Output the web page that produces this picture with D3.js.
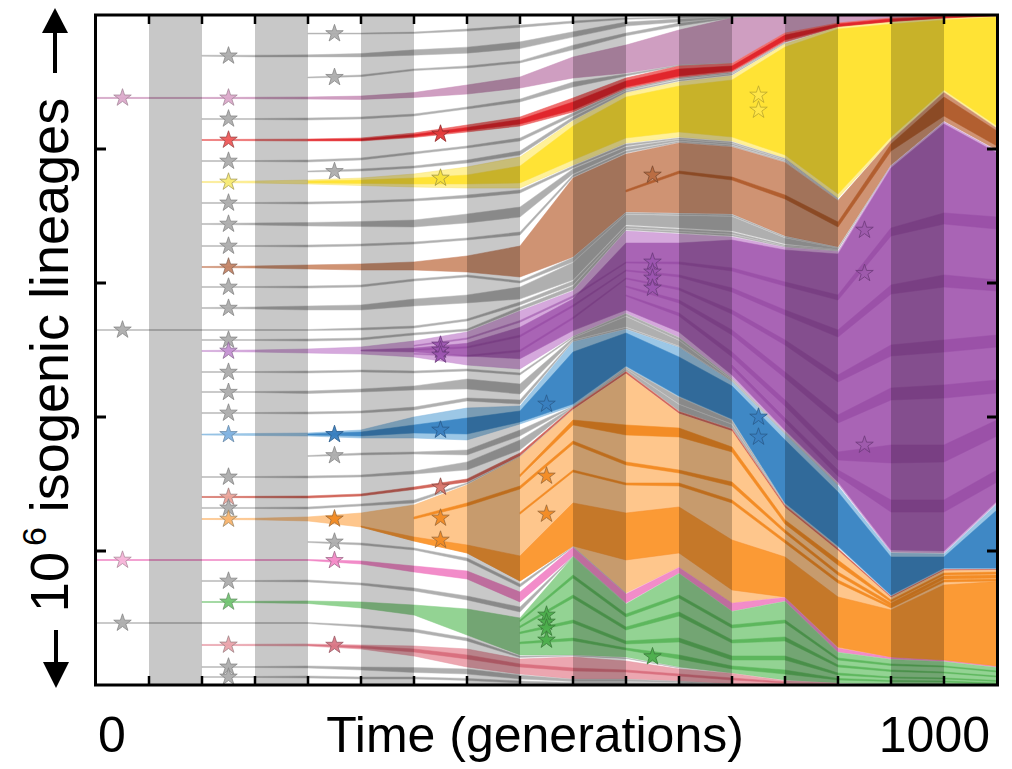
<!DOCTYPE html>
<html>
<head>
<meta charset="utf-8">
<script src="https://cdn.jsdelivr.net/npm/d3@7"></script>
<style>
  body { margin: 0; background: #fff; }
  svg { display: block; }
  text { font-family: "Liberation Sans", Arial, Helvetica, sans-serif; fill: #000; }
</style>
</head>
<body>
<svg id="chart" width="1012" height="769"></svg>
<script>
// Sampling points (transfer index) along the time axis.
const timePoints = [0,1,2,3,4,5,6,7,8,9,10,11,12,13,14,15,16,17];
const xTickLabels = ["0", "1000"];
const shadedIntervals = [1,3,5,7,9,11,13,15];
const yTicks = [200, 400, 600, 800];

// Each lineage: [upper, lower] rank edge (thousands of lineages counted from the top) per sample; null = not yet present / extinct.
const G1 = [null,null,null,null,[27,28.5],[27,28.5],[25.5,27.5],[21,24],[15,18.5],[9,12],[4.5,6.5],[3,4.5],[1.5,2.2],[0.8,1.1],null,null,null,null];
const G2 = [null,null,[60,61.5],[60,62.5],[59.5,62.5],[57.5,62.5],[52,60],[48,57],[40,50],[25,33],[10.5,16.5],[6,10.5],[2.2,3.7],[1.2,1.8],null,null,null,null];
const G3 = [null,null,null,null,[92.5,94],[89.5,92],[80.5,83],[76,79],[68.5,71.5],[45,52],[27,31],[12,16.5],[3.7,4.5],[1.8,2.2],null,null,null,null];
const mauve = [[123,124.5],[123,124.5],[123,124.5],[122.8,125],[122.4,125.4],[121,126],[115.7,123],[104.5,118],[92.5,109],[62.7,94],[44.8,86.6],[22.4,74.6],[4.5,71.6],[2.2,27],[1.5,12],[0.7,4.5],[0.4,1.5],[0.1,0.4]];
const G4 = [null,null,[154.5,156],[154.5,156],[153.7,156.7],[152.2,155.2],[147.8,150.7],[137.3,140.3],[125.4,129.8],[100,107.5],[88,91],[74.6,76],[71.6,72.4],null,null,null,null,null];
const red = [null,null,[185.8,187.3],[185.5,187.6],[185.1,188.1],[183.6,188.1],[176.1,182.8],[164.2,174.6],[152.2,165.7],[123.9,144.8],[94,110.4],[76.1,94],[72.4,85.1],[26.9,40.3],[11.9,17.9],[4.5,10.4],[1.5,5.2],[0.4,1.5]];
const redCore = [null,null,null,null,[186.1,187],[185.1,187.3],[178.4,181.3],[167.9,172.4],[156,162.7],[129.8,141.8],[98.5,107.5],[80.6,91],[76.1,82.8],[29.9,37.3],[13.4,17.2],[6,9.7],[2.2,4.5],[0.6,1.3]];
const G5 = [null,null,[217.2,218.7],[217.2,218.7],[216.4,219.4],[213.4,216.4],[204.5,207.5],[195.5,198.5],[183.6,188.1],[146.3,150.7],[110.4,112.7],[94,95.5],[85.8,87.4],[40.3,41],null,null,null,null];
const G6 = [null,null,null,null,[232.8,234.3],[229.8,232.8],[225.4,228.4],[216.4,220.9],[203,209],[152.2,156.7],[113.4,115.7],[97,98.5],[88.1,89.6],[41.8,42.5],null,null,null,null];
const yellow = [null,null,[248.5,250],[247.8,250.7],[246.3,252.2],[243.3,254.5],[237.3,256.7],[226.9,258.2],[211.9,258.2],[158.2,223.9],[116.4,191],[100,182.1],[91,188.1],[43.3,213.4],[17.9,273.1],[10.4,186.6],[5.2,114.9],[1.5,168.7]];
const yellowCore = [null,null,null,null,[247.8,250.7],[246.3,251.5],[243.3,252.2],[238.8,252.2],[225.4,250.7],[165.7,216.4],[122.4,183.6],[106,174.6],[97,182.1],[47.8,209],[20.9,267.2],[13.4,182.1],[7.5,111.9],[3,165.7]];
const G7 = [null,null,[279.8,281.3],[279.8,281.3],[279.1,282.1],[277.6,280.6],[274.6,277.6],[268.7,273.1],[261.2,265.7],[225.4,228.4],[192.5,195.5],[183.6,185.1],[189.5,191],[214.2,215.7],[273.9,274.6],null,null,null];
const G8 = [null,null,[311.2,312.7],[310.4,313.4],[309.7,314.9],[308.2,315.7],[306,316.4],[297,310.4],[286.6,301.5],[229.8,237.3],[197,201.5],[185.8,188.1],[191.8,194],[216.4,217.9],[274.9,275.5],null,null,null];
const G9 = [null,null,[344,345.5],[344,345.5],[343.3,346.3],[341.8,344.8],[338.8,341.8],[332.8,335.8],[323.9,328.4],[238.8,241.8],[203,206],[188.8,190.3],[194.8,196.3],[218.7,219.4],[275.8,276.1],null,null,null];
const brown = [null,null,[375.4,376.9],[374.6,377.6],[373.1,379.1],[371.6,380.6],[368.6,380.6],[359.7,383.6],[344.8,391],[243.3,361.2],[207.5,294],[191,295.5],[197,297],[220.1,329.8],[276.9,346.3],[187.3,223.9],[115.7,158.2],[169.4,201.5]];
const brownCore = [null,null,null,null,null,null,null,null,null,null,[261.2,264.2],[232.8,236.6],[241.8,246.3],[268.7,274.6],[309,316.4],[192.5,203],[122.4,150.7],[173.1,195.5]];
const G10 = [null,null,[405.2,406.7],[405.2,406.7],[404.5,407.5],[403,406],[394,397],[388,391],[397,400],[361.9,368.6],[294.8,297],[296.3,298.5],[297.8,300],[330.6,332.1],[347,347.8],null,null,null];
const G11 = [null,null,[436.6,438.1],[435.8,438.8],[434.3,440.3],[432.8,440.3],[423.9,434.3],[417.9,429.8],[406,423.9],[369.4,395.5],[297.8,313.4],[299.3,317.9],[300.7,322.4],[332.8,341.8],[348.2,350],[224.2,224.8],null,null];
const G12 = [[469.4,470.9],[469.4,470.9],[469.4,470.9],[469.4,470.9],[469.4,470.9],[467.2,470.1],[464.2,467.2],[453.7,456.7],[428.3,432.8],[397,403],[314.9,317.9],[319.4,322.4],[323.9,326.9],[343.3,344.8],[350,350.7],null,null,null];
const G13 = [null,null,[484.3,485.8],[484.3,485.8],[483.6,486.6],[482.1,485.1],[474.6,477.6],[468.6,471.6],[435.8,440.3],[404.5,410.4],[318.6,320.9],[323.1,325.4],[327.6,329.8],[345.2,346.3],[351.8,352.2],null,null,null];
const purple = [null,null,[500.7,502.2],[500,503],[498.5,504.5],[495.5,506],[486.6,510.4],[473.1,522.4],[441.8,528.3],[411.9,479.1],[322.4,444.8],[326.9,480.6],[331.3,541.8],[347,622.4],[353,700],[225.4,801.5],[159.7,803],[203,728.3]];
const purpleCore = [null,null,null,null,null,[500,501.5],[497,503],[490,509],[466,513],[424,471],[340.3,440.3],[340.3,473.1],[335.8,537.3],[350.7,619.4],[356.7,697],[228.4,798.5],[162.7,800],[206,725.4]];
const purpleSubA = [null,null,null,null,null,null,[493,494.5],[482,484],[456,458.5],[419,421.5],[368.6,370.1],[368.6,371.6],[377.6,382.1],[398.5,404.5],[417.9,425.4],[317.9,329.8],[295.5,311.9],[301.5,319.4]];
const purpleSubB = [null,null,null,null,null,null,[499,500.5],[495,497],[478,480.5],[433,435.5],[380.6,382.1],[388,391],[407.5,413.4],[440.3,447.8],[470.1,480.6],[403,416.4],[388,406],[395.5,411.9]];
const purpleSubC = [null,null,null,null,null,null,[505,506.5],[508,510],[500,502.5],[451,453.5],[392.5,394],[407.5,410.4],[440.3,446.3],[485.1,492.5],[537.3,547.7],[492.5,508.9],[485.1,503],[477.6,495.5]];
const purpleSubD = [null,null,null,null,null,null,null,null,null,null,[404.5,406],[425.4,429.8],[470.1,477.6],[532.8,541.8],[597,608.9],[556.7,574.6],[552.2,571.6],[544.8,564.2]];
const purpleSubE = [null,null,null,null,null,null,null,null,null,null,[417.9,419.4],[444.8,449.2],[503,510.4],[574.6,583.6],[652.2,664.2],[641.8,668.6],[641.8,667.1],[604.5,628.4]];
const purpleSubF = [null,null,null,null,null,null,null,null,null,null,null,null,[522.4,526.9],[601.5,607.4],[679.1,688],[723.9,741.8],[723.9,741.8],[679.1,697]];
const G14 = [null,null,[532.1,533.6],[532.1,533.6],[531.3,534.3],[529.8,532.8],[531.3,534.3],[528.3,531.3],[534.3,537.3],[479.8,481.3],[445.5,449.2],[481.3,485.1],[542.5,544],[623.1,623.9],[700.4,700.9],null,null,null];
const G15 = [null,null,[561.9,563.4],[561.9,563.4],[561.2,564.9],[558.2,562.7],[553.7,559.7],[543.3,558.2],[550.7,565.7],[482.1,485.1],[450,465.7],[485.8,494],[544.8,546.3],[624.2,624.8],[701.5,701.9],null,null,null];
const G16 = [null,null,[593.3,594.8],[593.3,594.8],[592.5,595.5],[591,594],[585.1,589.5],[571.6,576.1],[574.6,580.6],[485.8,487.3],[466.4,468.6],[494.7,495.5],[546.7,547.4],[625.1,625.4],[702.2,702.5],null,null,null];
const blue = [null,null,[625.4,626.9],[624.6,627.6],[623.9,628.4],[619.4,631.3],[600,631.3],[586.6,634.3],[583.6,610.4],[488.1,583.6],[469.4,525.4],[496.3,570.1],[547.7,604.5],[626.1,729.8],[702.9,794],[803,867.1],[804.5,826.8],[729.8,826.8]];
const blueCore = [null,null,null,null,[625.4,626.9],[622.4,628.4],[611.9,623.9],[601.5,625.4],[591,607.4],[503,580.6],[474.6,523.9],[510.4,568.6],[553.7,603],[634.3,728.3],[711.9,792.5],[808.9,865.6],[808.9,825.4],[738.8,825.4]];
const G17 = [null,null,null,null,[657.5,658.9],[653.7,656.7],[652.2,655.2],[649.2,656.7],[619.4,628.4],[584,584.6],[525.8,527.6],[570.6,580.6],[604.9,610.4],[730.1,730.7],[794.3,794.8],null,null,null];
const G18 = [null,null,[688.8,690.3],[688.8,690.3],[688,691],[686.6,689.5],[680.6,685.1],[667.1,679.1],[634.3,649.2],[584.7,585.4],[527.9,531.3],[581.3,591],[611.2,617.2],[731,731.8],[795.1,795.8],null,null,null];
const salmon = [null,null,[718.6,720.1],[718.4,720.5],[717.9,720.9],[714.9,717.9],[704.5,708.2],[692.5,697],[653.7,658.2],[585.8,588.8],[532.1,535.1],[591.8,594.8],[617.9,620.9],[732.1,735.1],[796.4,799.4],[867.9,869.4],[827.6,829.1],[827.3,828.3]];
const G19 = [null,null,[735,736.5],[735,736.5],[734.3,737.3],[729.8,732.8],[723.9,728.3],[698.5,700],[658.6,659.2],[589.1,589.5],null,null,null,null,null,null,null,null];
const orange = [null,null,[751.5,753],[751.2,753.4],[749.2,755.2],[743.3,764.2],[731.3,785.1],[701.5,803],[659.7,844.8],[589.5,792.5],[535.8,862.7],[595.5,823.9],[621.2,877.6],[735.4,868.6],[799.5,944.8],[869.8,958.2],[829.5,962.7],[828.6,971.6]];
const orangeDeep = [null,null,null,null,null,[762.7,764.2],[779.1,785.1],[791,803],[807.4,844.8],[728.3,792.5],[743.3,813.4],[734.3,803],[783.6,858.2],[808.9,868.6],[868.6,943.3],[888,958.2],[850.7,962.7],[845.5,971.6]];
const orangeSubA = [null,null,null,null,null,null,[749.2,752.2],[728.3,732.8],[703,707.4],[635.8,640.3],[667.1,671.6],[679.1,683.6],[697,703],[768.6,773.1],[831.3,835.8],[877.6,882.1],[837.3,841.8],[835.8,840.3]];
const orangeSubB = [null,null,null,null,null,null,null,null,[686,689],[604.5,611.9],[611.9,626.9],[616.4,629.8],[644.8,652.2],[753.7,759.7],[813.4,820.9],[873.1,876.1],[832.8,835.8],[831.3,834.3]];
const orangeSubC = [null,null,null,null,null,null,null,null,[742,745],[679.1,682.1],[698.5,701.5],[698.5,703],[723.9,728.3],[783.6,788],[843.3,847.7],[882.1,885],[843.3,846.2],[841.8,844.8]];
const G20 = [null,null,null,null,[785.8,787.3],[788,791],[795.5,798.5],[810.4,814.9],[849.2,853.7],[793.3,794],[863.1,863.6],null,null,null,null,null,null,null];
const pink = [[812.7,814.2],[812.7,814.2],[812.7,814.2],[812.7,814.2],[812.7,814.2],[814.9,819.4],[822.4,831.3],[829.8,841.8],[861.2,876.1],[794.8,807.4],[864.2,877.6],[824.6,832.8],[878,889.5],[869.4,874.6],[945.2,950.7],[958.6,961.2],[963.1,964.6],[972,973.1]];
const G21 = [null,null,[844,845.5],[844,845.5],[843.3,846.2],[847.7,850.7],[855.2,859.7],[867.1,873.1],[883.6,891],[807.9,808.5],[877.9,878.3],null,null,null,null,null,null,null];
const green = [null,null,[875.4,876.8],[875.1,877.1],[874.6,878.3],[876.1,885],[880.6,895.5],[886.5,925.4],[900,955.2],[808.9,955.2],[879.1,958.2],[833.6,973.1],[890.3,982.1],[875.4,992.5],[951.4,997],[961.9,998.5],[965.3,999.3],[973.9,1000]];
const greenSubA = [null,null,null,null,null,null,null,null,[903,905.5],[835.8,840.3],[894,898.5],[865.7,870.1],[910.4,914.9],[903,907.4],[959.7,962.7],[968.6,970.9],[971.6,973.1],[979.1,980.6]];
const greenSubB = [null,null,null,null,null,null,null,null,[912,914.5],[865.7,870.1],[913.4,917.9],[891,897],[932.8,937.3],[928.3,934.3],[970.1,973.1],[977.6,979.8],[980.6,982.1],[986.6,988]];
const greenSubC = [null,null,null,null,null,null,null,null,[921,923.5],[903,907.4],[934.3,938.8],[929.8,935.8],[956.7,962.7],[956.7,962.7],[982.1,985.1],[988,989.5],[989.5,991],[993.2,994.7]];
const greenSubD = [null,null,null,null,null,null,null,null,[936,938.5],[930,934],[944.8,947.7],[955.2,961.2],[971.6,976.1],[977.6,983.6],[990.2,992.5],[993.2,994.7],[994,995.5],[997,998.5]];
const G22 = [[906.7,908.2],[906.7,908.2],[906.7,908.2],[906.7,908.2],[906.7,908.2],[910.4,913.4],[916.4,920.9],[929.8,934.3],[956.7,958.9],[955.9,956.7],[959.7,960.4],[973.9,974.6],null,null,null,null,null,null];
const rose = [null,null,[939.5,941],[939.2,941.3],[938.8,941.8],[940.3,946.2],[941.8,956.7],[946.2,973.1],[961.2,983.6],[958.2,991],[964.2,991],[976.1,994],[982.8,998.5],[993.7,999.4],[997.4,999.9],null,null,null];
const roseCore = [null,null,null,null,[940,940.6],[941.8,944.8],[946.2,950.7],[955.2,961.2],[968.6,973.1],[974.6,979.1],[977.6,980.6],[983.6,986.6],[989.5,992.5],[995.5,997],null,null,null,null];
const G23 = [null,null,[972.4,973.9],[972.4,973.9],[971.6,974.6],[973.1,977.6],[973.9,981.3],[976.1,983.6],[985.1,991],[991.5,994.7],[991.5,994.7],[994.3,996.2],[998.8,999.1],null,null,null,null,null];
const G24 = [null,null,[987.3,988.8],[987.3,988.8],[986.6,989.5],[988,991],[988,991],[990.2,993.2],[994,997],[996.2,998.5],[996.2,998.5],[997,999.3],[999.9,1000],null,null,null,null,null];

// Beneficial-mutation markers: [time, rank, kind]
const stars = [
  [0.5,123.7,"mauveP"],[0.5,470,"grayP"],[0.5,813.5,"pinkP"],[0.5,907.5,"grayP"],
  [2.5,61,"grayP"],[2.5,123.7,"mauveP"],[2.5,155,"grayP"],[2.5,186.5,"redP"],[2.5,218,"grayP"],
  [2.5,249.2,"yellowP"],[2.5,280.5,"grayP"],[2.5,312,"grayP"],[2.5,344.8,"grayP"],[2.5,376,"brownP"],
  [2.5,406,"grayP"],[2.5,437.5,"grayP"],[2.5,485,"grayP"],[2.5,501.5,"purpleP"],[2.5,533,"grayP"],
  [2.5,563,"grayP"],[2.5,594,"grayP"],[2.5,626,"blueP"],[2.5,689.5,"grayP"],[2.5,719.5,"salmonP"],
  [2.5,735.7,"grayP"],[2.5,752.3,"orangeP"],[2.5,844.8,"grayP"],[2.5,876,"greenP"],[2.5,940.2,"roseP"],
  [2.5,973,"grayP"],[2.5,988,"grayP"],
  [4.5,27.7,"grayP"],[4.5,93,"grayP"],[4.5,233.5,"grayP"],[4.5,626,"blue"],[4.5,657.5,"grayP"],
  [4.5,752,"orange"],[4.5,786.5,"grayP"],[4.5,814,"pink"],[4.5,940.5,"rose"],
  [6.5,177.6,"red"],[6.5,243.3,"yellow"],[6.5,492.5,"purple"],[6.5,500,"purple"],[6.5,507.4,"purple"],
  [6.5,619.4,"blue"],[6.5,704.5,"salmon"],[6.5,750.7,"orange"],[6.5,783.6,"orange"],
  [8.5,580.6,"blue"],[8.5,688,"orange"],[8.5,744.8,"orange"],[8.5,895.5,"green"],[8.5,906,"green"],
  [8.5,915,"green"],[8.5,932.8,"green"],
  [10.5,238.8,"brown"],[10.5,368.6,"purple"],[10.5,383.5,"purple"],[10.5,392.5,"purple"],[10.5,407.5,"purple"],
  [10.5,957.7,"green"],
  [12.5,119.4,"yellowOpen"],[12.5,141.8,"yellowOpen"],[12.5,600,"blue"],[12.5,629.8,"blue"],
  [14.5,321,"purpleDeep"],[14.5,385.5,"purpleDeep"],[14.5,641.8,"purpleDeep"]
];

// ---- drawing styles ----
const bandStyle = {
  gray:   { fill: "#afafaf", stroke: "#bdbdbd" },
  mauve:  { fill: "#cf9ec1", stroke: "#c890b8" },
  red:    { fill: "#ef7070", stroke: "#e85a5a" },
  yellow: { fill: "#fff198", stroke: "#f6e27a" },
  brown:  { fill: "#cf9373", stroke: "#c8866a" },
  purple: { fill: "#d5a8dc", stroke: "#c998d2" },
  blue:   { fill: "#9cc7e6", stroke: "#8bbbe0" },
  salmon: { fill: "#d2685d", stroke: "#d2685d" },
  orange: { fill: "#fec68c", stroke: "#fbb874" },
  pink:   { fill: "#f28cc9", stroke: "#ee7fc0" },
  green:  { fill: "#93d393", stroke: "#86cc86" },
  rose:   { fill: "#eca6b0", stroke: "#e597a3" },
  redCore:    { fill: "#e1262c", stroke: "#e1262c" },
  yellowCore: { fill: "#ffe335", stroke: "#fbe048" },
  brownCore:  { fill: "#b25f30", stroke: "#b25f30" },
  purpleCore: { fill: "#a964b5", stroke: "#a964b5" },
  purpleSub:  { fill: "#8e3f9d", stroke: "#8e3f9d", opacity: 0.5 },
  blueCore:   { fill: "#3f88c5", stroke: "#3f88c5" },
  orangeDeep: { fill: "#fb9a35", stroke: "#f79030" },
  orangeSub:  { fill: "#f2861b", stroke: "#f2861b", opacity: 0.9 },
  greenSub:   { fill: "#4cae4c", stroke: "#4cae4c", opacity: 0.75 },
  roseCore:   { fill: "#d9707f", stroke: "#d9707f" }
};

const baseLayers = [
  [G1,"gray"],[G2,"gray"],[G3,"gray"],[mauve,"mauve"],[G4,"gray"],[red,"red"],[G5,"gray"],[G6,"gray"],
  [yellow,"yellow"],[G7,"gray"],[G8,"gray"],[G9,"gray"],[brown,"brown"],[G10,"gray"],[G11,"gray"],
  [G12,"gray"],[G13,"gray"],[purple,"purple"],[G14,"gray"],[G15,"gray"],[G16,"gray"],[blue,"blue"],
  [G17,"gray"],[G18,"gray"],[salmon,"salmon"],[G19,"gray"],[orange,"orange"],[G20,"gray"],[pink,"pink"],
  [G21,"gray"],[green,"green"],[G22,"gray"],[rose,"rose"],[G23,"gray"],[G24,"gray"]
];
const nestedLayers = [
  [redCore,"redCore"],[yellowCore,"yellowCore"],[brownCore,"brownCore"],[purpleCore,"purpleCore"],
  [purpleSubA,"purpleSub"],[purpleSubB,"purpleSub"],[purpleSubC,"purpleSub"],[purpleSubD,"purpleSub"],
  [purpleSubE,"purpleSub"],[purpleSubF,"purpleSub"],[blueCore,"blueCore"],[orangeDeep,"orangeDeep"],
  [orangeSubA,"orangeSub"],[orangeSubB,"orangeSub"],[orangeSubC,"orangeSub"],
  [greenSubA,"greenSub"],[greenSubB,"greenSub"],[greenSubC,"greenSub"],[greenSubD,"greenSub"],
  [roseCore,"roseCore"]
];

const starStyle = {
  grayP:   ["#adadad", "#868686"], mauveP: ["#dcaacb", "#a58899"], pinkP: ["#f6b4d8", "#ad8a9c"],
  redP:    ["#ef5a5a", "#9c4a4a"], yellowP: ["#f7ea74", "#a9a060"], brownP: ["#c48466", "#8a6a5a"],
  purpleP: ["#c592d3", "#8d6d96"], blueP: ["#80b2e0", "#6a8aa8"], salmonP: ["#eba49a", "#a08080"],
  orangeP: ["#f9b36b", "#a08a6a"], greenP: ["#72c472", "#6a946a"], roseP: ["#eaa3ab", "#a08488"],
  blue:    ["#3a80c0", "#2a5a8a"], orange: ["#f28a22", "#9a6a3a"], pink: ["#f48bc8", "#a06a8a"],
  rose:    ["#d97786", "#9a5a66"], red: ["#e33a3a", "#902a2a"], yellow: ["#f7e03a", "#a09540"],
  purple:  ["#9c54b0", "#6a3a7a"], salmon: ["#d8766a", "#8a4a44"], green: ["#4cae4c", "#3a7a3a"],
  brown:   ["#b86a40", "#7a4a30"], yellowOpen: ["#ffe64a", "#b9a42c"], purpleDeep: ["#9a55a8", "#6d3a7a"]
};

// ---- scales ----
const plotLeft = 96, plotRight = 997, plotTop = 15, plotBottom = 685;
const x = d3.scaleLinear().domain([0, 17]).range([plotLeft, plotRight]);
const y = d3.scaleLinear().domain([0, 1000]).range([plotTop, plotBottom]);

const svg = d3.select("#chart");
svg.append("defs").append("clipPath").attr("id", "plotClip")
  .append("rect").attr("x", plotLeft).attr("y", plotTop)
  .attr("width", plotRight - plotLeft).attr("height", plotBottom - plotTop);

const plot = svg.append("g").attr("clip-path", "url(#plotClip)");

const area = d3.area()
  .defined(d => d !== null)
  .x((d, i) => x(timePoints[i]))
  .y0(d => y(d[0]))
  .y1(d => y(d[1]));

function drawBands(layers, cls) {
  plot.append("g").attr("class", cls)
    .selectAll("path").data(layers).join("path")
    .attr("d", d => area(d[0]))
    .attr("fill", d => bandStyle[d[1]].fill)
    .attr("stroke", d => bandStyle[d[1]].stroke)
    .attr("stroke-width", 0.5)
    .attr("stroke-linejoin", "round")
    .attr("opacity", d => bandStyle[d[1]].opacity ?? 1);
}
drawBands(baseLayers, "lineages");
drawBands(nestedLayers, "sublineages");

// Alternating shaded intervals laid over the lineages
plot.append("g").selectAll("rect").data(shadedIntervals).join("rect")
  .attr("x", d => x(d)).attr("width", d => x(d + 1) - x(d))
  .attr("y", plotTop).attr("height", plotBottom - plotTop)
  .attr("fill", "#000").attr("fill-opacity", 0.215);

// Mutation markers
const star = d3.symbol().type(d3.symbolStar).size(95);
plot.append("g").selectAll("path").data(stars).join("path")
  .attr("transform", d => `translate(${x(d[0])},${y(d[1])})`)
  .attr("d", star)
  .attr("fill", d => starStyle[d[2]][0])
  .attr("stroke", d => starStyle[d[2]][1])
  .attr("stroke-width", 0.8)
  .attr("fill-opacity", d => d[2] === "purpleDeep" ? 0.6 : 0.95);

// ---- frame and ticks ----
const frame = svg.append("g").attr("stroke", "#000").attr("fill", "none");
frame.append("rect").attr("x", plotLeft - 0.5).attr("y", plotTop)
  .attr("width", plotRight - plotLeft + 1).attr("height", plotBottom - plotTop)
  .attr("stroke-width", 3);
const xTickVals = timePoints.slice(1, -1);
frame.selectAll("line.xt").data(xTickVals).join("line").attr("class", "xt")
  .attr("x1", d => x(d)).attr("x2", d => x(d)).attr("y1", plotTop).attr("y2", plotTop + 9).attr("stroke-width", 2.5);
frame.selectAll("line.xb").data(xTickVals).join("line").attr("class", "xb")
  .attr("x1", d => x(d)).attr("x2", d => x(d)).attr("y1", plotBottom).attr("y2", plotBottom - 9).attr("stroke-width", 2.5);
frame.selectAll("line.yl").data(yTicks).join("line").attr("class", "yl")
  .attr("x1", plotLeft).attr("x2", plotLeft + 10).attr("y1", d => y(d)).attr("y2", d => y(d)).attr("stroke-width", 3);
frame.selectAll("line.yr").data(yTicks).join("line").attr("class", "yr")
  .attr("x1", plotRight).attr("x2", plotRight - 10).attr("y1", d => y(d)).attr("y2", d => y(d)).attr("stroke-width", 3);

// ---- axis labels ----
svg.append("text").attr("x", 98).attr("y", 752).attr("font-size", 50).text(xTickLabels[0]);
svg.append("text").attr("x", 990).attr("y", 752).attr("font-size", 50).attr("text-anchor", "end").text(xTickLabels[1]);
svg.append("text").attr("x", 535).attr("y", 752).attr("font-size", 50).attr("text-anchor", "middle").text("Time (generations)");

const ylab = svg.append("text").attr("transform", "translate(68,355) rotate(-90)")
  .attr("text-anchor", "middle").attr("font-size", 54);
ylab.append("tspan").text("10");
ylab.append("tspan").attr("font-size", 34).attr("dy", -22).attr("dx", 6).text("6");
ylab.append("tspan").attr("dy", 22).text(" isogenic lineages");

// arrows at both ends of the vertical label
const arrows = svg.append("g").attr("fill", "#000").attr("stroke", "#000");
arrows.append("line").attr("x1", 55).attr("x2", 55).attr("y1", 73).attr("y2", 30).attr("stroke-width", 4);
arrows.append("path").attr("d", "M42,33 L68,33 L55,8 Z").attr("stroke", "none");
arrows.append("line").attr("x1", 56).attr("x2", 56).attr("y1", 630).attr("y2", 665).attr("stroke-width", 4);
arrows.append("path").attr("d", "M43,662 L69,662 L56,688 Z").attr("stroke", "none");
</script>
</body>
</html>
